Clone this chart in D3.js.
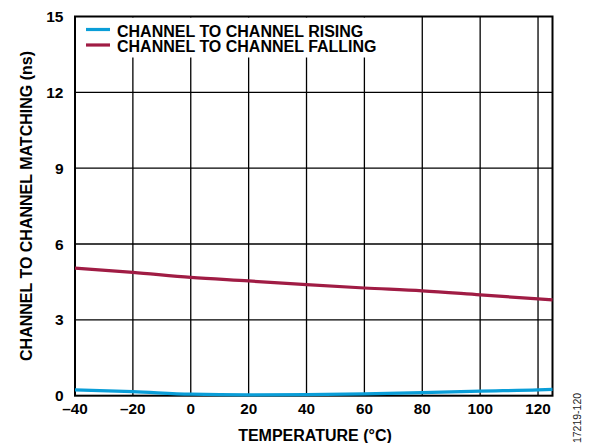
<!DOCTYPE html>
<html><head><meta charset="utf-8">
<script src="https://cdn.jsdelivr.net/npm/d3@7"></script>
<style>
body{margin:0;background:#fff;}
text{font-family:"Liberation Sans",Arial,sans-serif;}
</style></head>
<body><svg id="c" width="597" height="443"></svg>
<script>
const temps = [-40, -20, 0, 20, 40, 60, 80, 100, 120, 125];
const rising = [0.23, 0.16, 0.06, 0.03, 0.04, 0.07, 0.12, 0.18, 0.23, 0.25];
const falling = [5.05, 4.88, 4.68, 4.54, 4.39, 4.26, 4.15, 3.99, 3.83, 3.79];
const xTicks = [-40, -20, 0, 20, 40, 60, 80, 100, 120];
const yTicks = [0, 3, 6, 9, 12, 15];
const seriesNames = ["CHANNEL TO CHANNEL RISING", "CHANNEL TO CHANNEL FALLING"];
const colors = ["#0a9ed8", "#a01c44"];

const svg = d3.select("#c");
const L = 75, R = 552.5, T = 16.5, B = 395.7;
const x = d3.scaleLinear().domain([-40, 125]).range([L, R]);
const y = d3.scaleLinear().domain([0, 15]).range([B, T]);

// gridlines
const g = svg.append("g");
g.selectAll(".vg").data(xTicks.slice(1)).join("line")
  .attr("x1", d => x(d)).attr("x2", d => x(d)).attr("y1", T).attr("y2", B)
  .attr("stroke", "#000").attr("stroke-width", 1.3);
g.selectAll(".hg").data(yTicks.slice(1, -1)).join("line")
  .attr("x1", L).attr("x2", R).attr("y1", d => y(d)).attr("y2", d => y(d))
  .attr("stroke", "#000").attr("stroke-width", 1.3);

// legend background
svg.append("rect").attr("x", L + 1).attr("y", T + 1).attr("width", 298).attr("height", 40).attr("fill", "#fff");

// frame
svg.append("rect").attr("x", L).attr("y", T).attr("width", R - L).attr("height", B - T)
  .attr("fill", "none").attr("stroke", "#000").attr("stroke-width", 2);

// lines
const line = d3.line().x((d, i) => x(temps[i])).y(d => y(d)).curve(d3.curveMonotoneX);
[rising, falling].forEach((s, k) => {
  svg.append("path").attr("d", line(s)).attr("fill", "none")
    .attr("stroke", colors[k]).attr("stroke-width", 3.2);
});

// axes labels
svg.append("g").selectAll("text").data(xTicks).join("text")
  .attr("x", d => x(d)).attr("y", 414).attr("text-anchor", "middle")
  .attr("font-size", 15.3).attr("font-weight", "bold")
  .text(d => d < 0 ? "\u2013" + Math.abs(d) : d);
svg.append("g").selectAll("text").data(yTicks).join("text")
  .attr("x", 63.5).attr("y", d => y(d)).attr("dy", "0.36em").attr("text-anchor", "end")
  .attr("font-size", 15.5).attr("font-weight", "bold").text(d => d);

svg.append("text").attr("x", 315).attr("y", 440.5).attr("text-anchor", "middle")
  .attr("font-size", 16).attr("font-weight", "bold").text("TEMPERATURE (°C)");
svg.append("text").attr("transform", "translate(31.5,206) rotate(-90)").attr("text-anchor", "middle")
  .attr("font-size", 16).attr("font-weight", "bold").text("CHANNEL TO CHANNEL MATCHING (ns)");

// legend
seriesNames.forEach((n, k) => {
  const yy = 29.5 + k * 15.5;
  svg.append("line").attr("x1", 86).attr("x2", 110).attr("y1", yy).attr("y2", yy)
    .attr("stroke", colors[k]).attr("stroke-width", 3.2);
  svg.append("text").attr("x", 117).attr("y", 36.7 + k * 15.6)
    .attr("font-size", 16).attr("font-weight", "bold").text(n);
});

// figure id
svg.append("text").attr("transform", "translate(581,418) rotate(-90)").attr("text-anchor", "middle")
  .attr("font-size", 10.5).attr("fill", "#222").text("17219-120");
</script></body></html>
